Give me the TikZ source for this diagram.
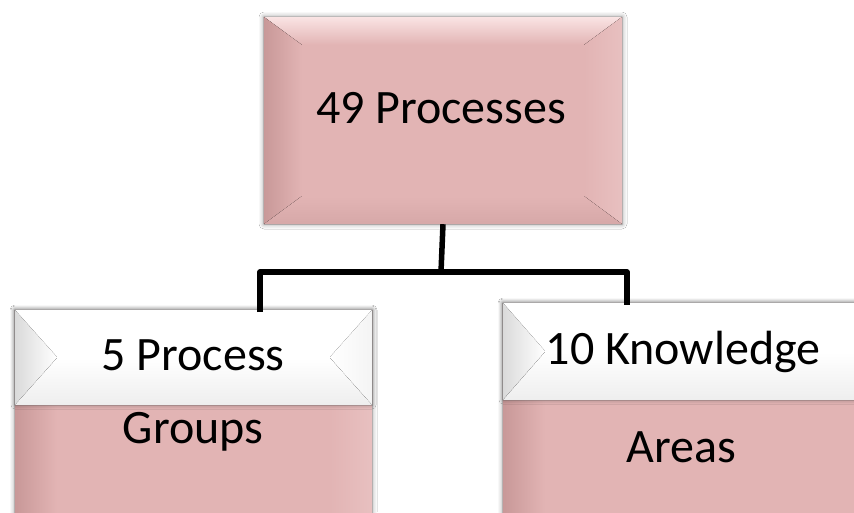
\documentclass[tikz,border=0pt]{standalone}
\usepackage{fontspec}
\setmainfont{Carlito}
\usetikzlibrary{shadows.blur,calc}
\definecolor{pface}{RGB}{226,180,180}
\definecolor{ptop}{RGB}{250,228,228}
\definecolor{pleft}{RGB}{200,152,152}
\definecolor{pright}{RGB}{232,192,192}
\definecolor{pbot}{RGB}{214,168,168}
\definecolor{wleft}{RGB}{218,218,218}
\definecolor{wright}{RGB}{244,244,244}
\definecolor{wbot}{RGB}{238,238,238}
% #1 node, #2 horizontal inset, #3 vertical inset, #4 top, #5 left, #6 right, #7 bottom
\newcommand\mybevel[7]{%
  \fill[#4] (#1.north west) -- (#1.north east) -- ([shift={(-#2,#3)}]#1.north east) -- ([shift={(#2,#3)}]#1.north west) -- cycle;
  \fill[#5] (#1.north west) -- (#1.south west) -- ([shift={(#2,-#3)}]#1.south west) -- ([shift={(#2,#3)}]#1.north west) -- cycle;
  \fill[#6] (#1.north east) -- (#1.south east) -- ([shift={(-#2,-#3)}]#1.south east) -- ([shift={(-#2,#3)}]#1.north east) -- cycle;
  \fill[#7] (#1.south west) -- (#1.south east) -- ([shift={(-#2,-#3)}]#1.south east) -- ([shift={(#2,-#3)}]#1.south west) -- cycle;
}
\tikzset{
  pbox/.style={rectangle, fill=pface, draw=none, inner sep=0pt,
    blur shadow={shadow xshift=0pt, shadow yshift=0pt, shadow blur radius=5pt, shadow opacity=45}},
  wbox/.style={rectangle, fill=white, draw=none, inner sep=0pt,
    blur shadow={shadow xshift=0pt, shadow yshift=0pt, shadow blur radius=4pt, shadow opacity=35}},
  lbl/.style={anchor=base, inner sep=0pt, font=\fontsize{48}{52}\selectfont, text=black},
  conn/.style={draw=black, line width=5.5pt, line join=round, line cap=butt}
}
\begin{document}
\begin{tikzpicture}[x=1pt,y=-1pt]
\useasboundingbox (0,0) rectangle (854,512);
\clip (0,0) rectangle (854,512);
\fill[white] (0,0) rectangle (854,512);
% connector points
\coordinate (bar) at (441,272);
\coordinate (lj) at (260,312);
\coordinate (rj) at (627,305);
% boxes
\node[pbox, minimum width=358pt, minimum height=207pt] (top) at (443,120.5) {};
\mybevel{top}{38}{28}{top color=ptop, bottom color=pface}{left color=pleft, right color=pface}{left color=pface, right color=pright}{top color=pface, bottom color=pbot}
\node[pbox, minimum width=357pt, minimum height=250pt] (left) at (193.5,435) {};
\mybevel{left}{42}{30}{top color=ptop, bottom color=pface}{left color=pleft, right color=pface}{left color=pface, right color=pright}{top color=pface, bottom color=pbot}
\node[wbox, minimum width=357pt, minimum height=95pt] (leftw) at (193.5,357.5) {};
\mybevel{leftw}{42}{47}{white}{left color=wleft, right color=white}{left color=white, right color=wright}{top color=white, bottom color=wbot}
\node[pbox, minimum width=407pt, minimum height=257pt] (right) at (706.5,431.5) {};
\mybevel{right}{42}{30}{top color=ptop, bottom color=pface}{left color=pleft, right color=pface}{left color=pface, right color=pright}{top color=pface, bottom color=pbot}
\node[wbox, minimum width=407pt, minimum height=97pt] (rightw) at (706.5,351.5) {};
\mybevel{rightw}{42}{48}{white}{left color=wleft, right color=white}{left color=white, right color=wright}{top color=white, bottom color=wbot}
\draw[conn] (top.south) -- (bar);
\draw[conn] (lj) -- (lj|-bar) -- (rj|-bar) -- (rj);
% labels
\node[lbl] (t1) at (441,123) {49 Processes};
\node[lbl] (l1) at (193,370) {5 Process};
\node[lbl] (l2) at (193,443) {Groups};
\node[lbl] (r1) at (683,364) {10 Knowledge};
\node[lbl] (r2) at (681,462) {Areas};
\end{tikzpicture}
\end{document}
